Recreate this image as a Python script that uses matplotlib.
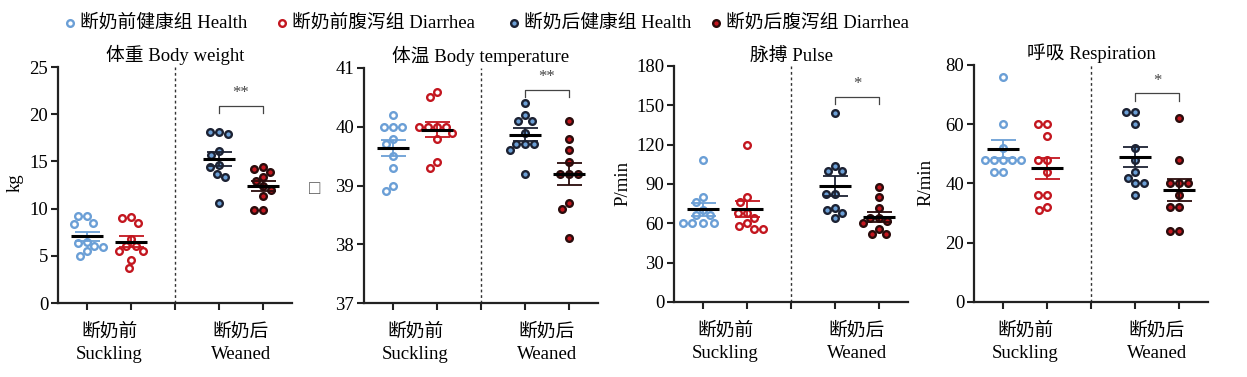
import numpy as np
import matplotlib
matplotlib.use("Agg")
import matplotlib.pyplot as plt
from matplotlib.lines import Line2D

plt.rcParams['font.family'] = ['Liberation Serif', 'Noto Sans CJK SC', 'DejaVu Sans']
plt.rcParams['axes.unicode_minus'] = False

# ---------------- data ----------------
legend_labels = ["断奶前健康组 Health", "断奶前腹泻组 Diarrhea",
                 "断奶后健康组 Health", "断奶后腹泻组 Diarrhea"]
group_labels = ["断奶前\nSuckling", "断奶后\nWeaned"]

titles = ["体重 Body weight", "体温 Body temperature", "脉搏 Pulse", "呼吸 Respiration"]
ylabels = ["kg", "□", "P/min", "R/min"]

bw_suck_health = [9.2, 9.2, 8.4, 8.5, 6.5, 6.4, 6.0, 5.9, 5.5, 5.0]
bw_suck_diarr = [9.1, 9.0, 8.5, 6.8, 6.0, 6.0, 5.5, 5.5, 4.6, 3.7]
bw_wean_health = [17.9, 18.1, 18.1, 16.1, 15.7, 14.4, 14.6, 13.7, 13.4, 10.6]
bw_wean_diarr = [14.4, 14.2, 13.9, 13.4, 12.9, 12.4, 12.0, 11.3, 9.9, 9.9]

bt_suck_health = [40.2, 40.0, 40.0, 40.0, 39.8, 39.7, 39.5, 39.3, 39.0, 38.9]
bt_suck_diarr = [40.6, 40.5, 40.0, 40.0, 40.0, 40.0, 39.9, 39.8, 39.4, 39.3]
bt_wean_health = [40.4, 40.2, 40.1, 40.1, 39.9, 39.7, 39.7, 39.7, 39.6, 39.2]
bt_wean_diarr = [40.1, 39.8, 39.6, 39.4, 39.2, 39.2, 39.2, 38.7, 38.6, 38.1]

pu_suck_health = [108, 80, 76, 70, 66, 66, 60, 60, 60, 60]
pu_suck_diarr = [120, 80, 76, 68, 68, 64, 60, 58, 56, 56]
pu_wean_health = [144, 104, 100, 100, 82, 82, 72, 70, 68, 64]
pu_wean_diarr = [88, 80, 72, 64, 64, 62, 60, 56, 52, 52]

re_suck_health = [76, 60, 52, 48, 48, 48, 48, 48, 44, 44]
re_suck_diarr = [60, 60, 56, 48, 48, 44, 36, 36, 31, 32]
re_wean_health = [64, 64, 60, 52, 48, 44, 42, 40, 40, 36]
re_wean_diarr = [62, 48, 40, 40, 40, 36, 32, 32, 24, 24]

ylims = [(0, 25), (37, 41), (0, 180), (0, 80)]
yticks = [[0, 5, 10, 15, 20, 25], [37, 38, 39, 40, 41],
          [0, 30, 60, 90, 120, 150, 180], [0, 20, 40, 60, 80]]
sig_labels = ["**", "**", "*", "*"]
sig_heights = [20.9, 40.63, 156.6, 70.4]

panels = [
    [bw_suck_health, bw_suck_diarr, bw_wean_health, bw_wean_diarr],
    [bt_suck_health, bt_suck_diarr, bt_wean_health, bt_wean_diarr],
    [pu_suck_health, pu_suck_diarr, pu_wean_health, pu_wean_diarr],
    [re_suck_health, re_suck_diarr, re_wean_health, re_wean_diarr],
]

# ---------------- styles ----------------
LBLUE = "#6b9fd6"
RED = "#c3161f"
NAVY = "#1c2233"
DRED = "#2a0c0c"
styles = [
    dict(mfc="white", mec=LBLUE, err=LBLUE),
    dict(mfc="white", mec=RED, err=RED),
    dict(mfc=LBLUE, mec=NAVY, err=NAVY),
    dict(mfc=RED, mec=DRED, err=DRED),
]
positions = [0, 1, 3, 4]
MS = 4.8
MEW = 1.7
FS = 13.5

W, H = 1247, 377
fig = plt.figure(figsize=(W / 100, H / 100), dpi=100)

axes_px = [(58, 292, 67, 303), (364, 598, 68, 303), (674, 908, 66, 302), (974, 1208, 65, 302)]
ylabel_xy = [(15, 183), (315, 190), (623, 183), (926, 182)]


def swarm_offsets(ax, x0, vals, diam_px):
    trans = ax.transData
    disp = trans.transform(np.column_stack([np.full(len(vals), x0), vals]))
    ys = disp[:, 1]
    px_per_unit = trans.transform((1, 0))[0] - trans.transform((0, 0))[0]
    placed = []
    offs = np.zeros(len(vals))
    order = np.argsort(-np.asarray(vals), kind="stable")
    for i in order:
        yi = ys[i]
        cands = [0.0]
        for (xj, yj) in placed:
            dy = abs(yi - yj)
            if dy < diam_px:
                dx = np.sqrt(diam_px ** 2 - dy ** 2)
                cands += [xj + dx, xj - dx]
        cands = sorted(cands, key=lambda c: (abs(c), c))
        for c in cands:
            ok = True
            for (xj, yj) in placed:
                if (c - xj) ** 2 + (yi - yj) ** 2 < diam_px ** 2 - 1e-6:
                    ok = False
                    break
            if ok:
                offs[i] = c
                placed.append((c, yi))
                break
    return offs / px_per_unit


for k in range(4):
    l, r, t, b = axes_px[k]
    ax = fig.add_axes([l / W, 1 - b / H, (r - l) / W, (b - t) / H])
    ax.set_xlim(-0.66, 4.66)
    ax.set_ylim(*ylims[k])
    for s in ["top", "right"]:
        ax.spines[s].set_visible(False)
    for s in ["left", "bottom"]:
        ax.spines[s].set_linewidth(1.6)
        ax.spines[s].set_color("#222222")
    ax.set_yticks(yticks[k])
    ax.set_xticks([0, 1, 2, 3, 4])
    ax.set_xticklabels([])
    ax.set_xticks([0.5, 3.5], minor=True)
    ax.set_xticklabels(group_labels, minor=True, fontsize=FS, linespacing=1.4)
    ax.tick_params(axis="x", which="minor", length=0, pad=14.5)
    ax.tick_params(axis="both", which="major", direction="out", length=5, width=1.5,
                   color="#222222", labelsize=FS)
    ax.tick_params(axis="y", pad=2)

    ax.axvline(2, color="#333333", lw=1.0, ls=(0, (2, 2)), zorder=1)

    for g in range(4):
        vals = np.asarray(panels[k][g], dtype=float)
        st = styles[g]
        x0 = positions[g]
        offs = swarm_offsets(ax, x0, vals, 8.8)
        ax.plot(x0 + offs, vals, "o", ms=MS, mfc=st["mfc"], mec=st["mec"], mew=MEW,
                ls="none", zorder=3)
        mean = vals.mean()
        sem = vals.std(ddof=1) / np.sqrt(len(vals))
        ax.errorbar(x0, mean, yerr=sem, fmt="none", ecolor=st["err"], elinewidth=1.3,
                    capsize=9, capthick=1.3, zorder=4)
        ax.hlines(mean, x0 - 0.36, x0 + 0.36, color="black", lw=2.2, zorder=5)

    # significance bracket
    y0, y1 = ylims[k]
    h = sig_heights[k]
    leg = (y1 - y0) * 0.03
    ax.plot([3, 3, 4, 4], [h - leg, h, h, h - leg], color="#444444", lw=0.9, clip_on=False)
    ax.text(3.5, h + (y1 - y0) * 0.02, sig_labels[k], ha="center", va="bottom",
            fontsize=12, color="#444444")

    ax.set_title(titles[k], fontsize=FS, pad=4)
    xl, yl = ylabel_xy[k]
    fig.text(xl / W, 1 - yl / H, ylabels[k], rotation=90 if k != 1 else 0,
             ha="center", va="center", fontsize=FS,
             color="#555555" if k == 1 else "black")

# legend (markers + labels placed along the top)
legend_x = [70, 282, 514, 716]
legend_y = 23
for g in range(4):
    st = styles[g]
    fig.add_artist(Line2D([legend_x[g] / W], [1 - legend_y / H], transform=fig.transFigure,
                          marker="o", ls="none", ms=MS, mfc=st["mfc"], mec=st["mec"], mew=MEW))
    fig.text((legend_x[g] + 10) / W, 1 - legend_y / H, legend_labels[g],
             ha="left", va="center", fontsize=FS)

fig.savefig("out.png", dpi=100)
